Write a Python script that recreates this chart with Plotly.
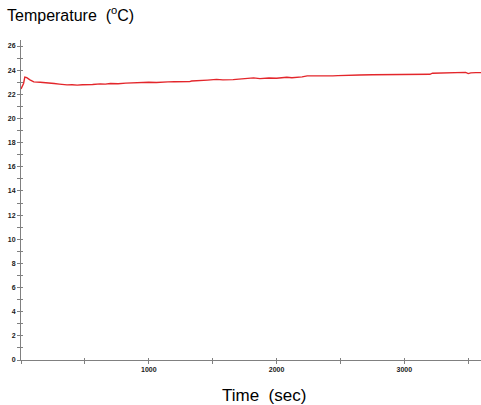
import plotly.graph_objects as go

time_sec = [0, 10, 20, 30, 45, 70, 100, 150, 200, 230, 260, 300, 360, 400, 440, 480, 520,
            560, 620, 660, 700, 760, 820, 880, 940, 1000, 1060, 1120, 1140, 1150, 1200,
            1260, 1320, 1335, 1400, 1460, 1530, 1580, 1660, 1720, 1780, 1820, 1870, 1940,
            2000, 2080, 2120, 2160, 2200, 2240, 2300, 2350, 2400, 2440, 2480, 2550, 2650,
            2750, 2850, 2950, 3050, 3150, 3200, 3220, 3300, 3380, 3440, 3480, 3500, 3520,
            3560, 3600]
temp_c = [22.45, 22.7, 22.9, 23.42, 23.38, 23.2, 23.03, 23.0, 22.98, 22.95, 22.9, 22.85,
          22.78, 22.8, 22.76, 22.8, 22.78, 22.82, 22.87, 22.85, 22.9, 22.88, 22.93, 22.97,
          22.95, 23.0, 22.98, 23.02, 23.08, 23.03, 23.04, 23.03, 23.05, 23.1, 23.12, 23.18,
          23.24, 23.2, 23.22, 23.28, 23.3, 23.36, 23.3, 23.35, 23.33, 23.42, 23.38, 23.4,
          23.45, 23.53, 23.52, 23.53, 23.48, 23.53, 23.55, 23.59, 23.6, 23.62, 23.62, 23.63,
          23.63, 23.64, 23.66, 23.75, 23.76, 23.78, 23.8, 23.82, 23.72, 23.78, 23.8, 23.8]

x_ticks = [1000, 2000, 3000]
y_ticks = [0, 2, 4, 6, 8, 10, 12, 14, 16, 18, 20, 22, 24, 26]
x_range = [0, 3600]
y_range = [0, 26.5]

fig = go.Figure()
fig.add_trace(go.Scatter(x=time_sec, y=temp_c, mode="lines",
                         line=dict(color="#e3262b", width=1.4), showlegend=False,
                         hoverinfo="skip"))
# invisible trace on overlay axes (for crossing ticks)
fig.add_trace(go.Scatter(x=[x_range[0]], y=[y_range[0]], xaxis="x2", yaxis="y2",
                         mode="markers", marker=dict(opacity=0), showlegend=False,
                         hoverinfo="skip"))

tickfont = dict(family="Liberation Sans, Arial, sans-serif", size=7, color="#1a1a1a", weight="bold")
axcol = "#808080"

fig.update_layout(
    width=481, height=405,
    margin=dict(l=21, r=0, t=40, b=45),
    plot_bgcolor="white", paper_bgcolor="white",
    xaxis=dict(range=x_range, tickvals=x_ticks, ticktext=[str(v) for v in x_ticks],
               showgrid=False, zeroline=False, showline=True, linecolor=axcol,
               linewidth=1, ticks="outside", ticklen=3, tickcolor=axcol,
               tickfont=tickfont, minor=dict(dtick=500, ticks="outside", ticklen=3,
                                             tickcolor=axcol, tick0=0),
               fixedrange=True),
    yaxis=dict(range=y_range, tickvals=y_ticks, ticktext=[str(v) for v in y_ticks],
               showgrid=False, zeroline=False, showline=True, linecolor=axcol,
               linewidth=1, ticks="outside", ticklen=3, tickcolor=axcol,
               tickfont=tickfont, minor=dict(dtick=1, ticks="outside", ticklen=3,
                                             tickcolor=axcol, tick0=0),
               fixedrange=True),
    xaxis2=dict(range=x_range, overlaying="x", side="bottom", anchor="y2",
                tickvals=[], showticklabels=False, showgrid=False, zeroline=False,
                showline=False, ticks="inside", ticklen=2,
                minor=dict(dtick=500, ticks="inside", ticklen=2, tickcolor=axcol, tick0=0),
                fixedrange=True),
    yaxis2=dict(range=y_range, overlaying="y", side="left", anchor="x2",
                tickvals=[], showticklabels=False, showgrid=False, zeroline=False,
                showline=False, ticks="inside", ticklen=2,
                minor=dict(dtick=1, ticks="inside", ticklen=2, tickcolor=axcol, tick0=0),
                fixedrange=True),
    annotations=[
        dict(text="Temperature  (<sup>o</sup>C)", xref="paper", yref="paper", x=-16/460,
             y=1, xanchor="left", yanchor="bottom", yshift=14, showarrow=False,
             font=dict(family="Liberation Sans, Arial, sans-serif", size=16, color="black")),
        dict(text="Time  (sec)", xref="paper", yref="paper", x=(264-21)/460, y=0,
             xanchor="center", yanchor="top", yshift=-24, showarrow=False,
             font=dict(family="Liberation Sans, Arial, sans-serif", size=17, color="black")),
    ],
)

fig.write_html("out.html", config={"displayModeBar": False},
               post_script="document.body.style.margin='0';document.body.style.overflow='hidden';")
